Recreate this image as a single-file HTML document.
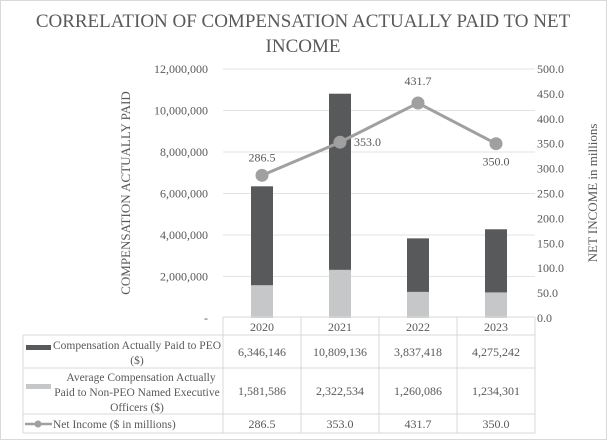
<!DOCTYPE html>
<html><head><meta charset="utf-8"><style>
body{margin:0;background:#fff}
svg{display:block}
svg text{font-family:"Liberation Serif","DejaVu Serif",serif}
</style></head><body>
<svg id="c" width="607" height="440" viewBox="0 0 607 440" font-family="Liberation Serif, serif">
<rect x="0.5" y="0.5" width="606" height="439" fill="#fff" stroke="#d9d9d9"/>
<text x="303" y="27" text-anchor="middle" font-size="19" fill="#595959">CORRELATION OF COMPENSATION ACTUALLY PAID TO NET</text>
<text x="303" y="52" text-anchor="middle" font-size="19" fill="#595959">INCOME</text>
<text transform="translate(130,193) rotate(-90)" text-anchor="middle" font-size="13" fill="#595959">COMPENSATION ACTUALLY PAID</text>
<text transform="translate(597,193) rotate(-90)" text-anchor="middle" font-size="13" fill="#595959">NET INCOME in millions</text>
<g id="grid"></g><g id="bars"></g><g id="line"></g><g id="table"></g>
</svg>
<script>
const categories=['2020','2021','2022','2023'];
const peo=[6346146,10809136,3837418,4275242];
const nonPeo=[1581586,2322534,1260086,1234301];
const netIncome=[286.5,353.0,431.7,350.0];
const leftTicks=[0,2000000,4000000,6000000,8000000,10000000,12000000];
const rightTicks=[0,50,100,150,200,250,300,350,400,450,500];
const NS='http://www.w3.org/2000/svg';
const y0=318,yTop=69,x0=223,colW=78;
const yL=v=>y0-(v/12000000)*(y0-yTop);
const yR=v=>y0-(v/500)*(y0-yTop);
const xC=i=>x0+colW*i+colW/2;
function mk(tag,attrs,parent,text){const e=document.createElementNS(NS,tag);for(const k in attrs)e.setAttribute(k,attrs[k]);if(text!==undefined)e.textContent=text;parent.appendChild(e);return e;}
const fmt=n=>n.toLocaleString('en-US');
const g=document.getElementById('grid');
leftTicks.forEach(t=>{
  if(t>0){const l=mk('line',{x1:x0,x2:x0+colW*4,y1:yL(t),y2:yL(t),stroke:'#e3e3e3','stroke-width':1},g);
  
  }
  const tx=mk('text',{x:208,y:yL(t)+4,'text-anchor':'end','font-size':12,fill:'#595959'},g,t===0?'-':fmt(t));
  
  
});
rightTicks.forEach(t=>{
  const tx=mk('text',{x:537,y:yR(t)+4,'font-size':12,fill:'#595959'},g,t.toFixed(1));
  
  
});
const b=document.getElementById('bars');
categories.forEach((c,i)=>{
  const r1=mk('rect',{x:xC(i)-11,y:yL(peo[i]),width:22,height:y0-yL(peo[i]),fill:'#58595b'},b);
  
  
  const r2=mk('rect',{x:xC(i)-11,y:yL(nonPeo[i]),width:22,height:y0-yL(nonPeo[i]),fill:'#c6c7c8'},b);
  
  
});
const ln=document.getElementById('line');
const pl=mk('polyline',{points:netIncome.map((v,i)=>xC(i)+','+yR(v)).join(' '),fill:'none',stroke:'#a0a0a0','stroke-width':3},ln);


const off=[[0,-14,'middle'],[14,4,'start'],[0,-18,'middle'],[0,22,'middle']];
netIncome.forEach((v,i)=>{
  const p=mk('circle',{cx:xC(i),cy:yR(v),r:6.5,fill:'#a0a0a0'},ln);
  
  
  const t=mk('text',{x:xC(i)+off[i][0],y:yR(v)+off[i][1],'text-anchor':off[i][2],'font-size':12,fill:'#595959'},ln,v.toFixed(1));
  
  
});
const tb=document.getElementById('table');
const rows=[317,335,368,414,433];
const L=23,R=x0+colW*4,st='#d9d9d9';
[[x0,rows[0],R,rows[0]],[L,rows[1],R,rows[1]],[L,rows[2],R,rows[2]],[L,rows[3],R,rows[3]],[L,rows[4],R,rows[4]],[L,rows[1],L,rows[4]]].forEach(a=>{
  const l=mk('line',{x1:a[0],y1:a[1],x2:a[2],y2:a[3],stroke:st},tb);
  
  
});
for(let i=0;i<=4;i++){const l=mk('line',{x1:x0+colW*i,y1:rows[0],x2:x0+colW*i,y2:rows[4],stroke:st},tb);
  
  }
categories.forEach((c,i)=>{
  const t=mk('text',{x:xC(i),y:331,'text-anchor':'middle','font-size':12,fill:'#595959'},tb,c);
  
  
  [[peo[i],356],[nonPeo[i],395],[netIncome[i],428]].forEach((d,k)=>{
    const tt=mk('text',{x:xC(i),y:d[1],'text-anchor':'middle','font-size':12,fill:'#595959'},tb,k===2?d[0].toFixed(1):fmt(d[0]));
    
    
  });
});
const mid=137;
const legendLines=[
  [['Compensation Actually Paid to PEO',53,349,'start'],['($)',mid,364,'middle']],
  [['Average Compensation Actually',mid+4,381,'middle'],['Paid to Non-PEO Named Executive',mid,396,'middle'],['Officers ($)',mid,411,'middle']],
  [['Net Income ($ in millions)',53,428,'start']]
];
const s1=mk('rect',{x:26,y:345,width:25,height:5,fill:'#58595b'},tb);


const s2=mk('rect',{x:26,y:384,width:25,height:5,fill:'#c6c7c8'},tb);


const s3=mk('line',{x1:25,x2:52,y1:424,y2:424,stroke:'#a0a0a0','stroke-width':2.5},tb);


const s4=mk('circle',{cx:38,cy:424,r:3.5,fill:'#a0a0a0'},tb);


legendLines.forEach(group=>group.forEach(d=>{
  const t=mk('text',{x:d[1],y:d[2],'text-anchor':d[3],'font-size':11.5,fill:'#595959'},tb,d[0]);
  
  
}));
</script>
</body></html>
